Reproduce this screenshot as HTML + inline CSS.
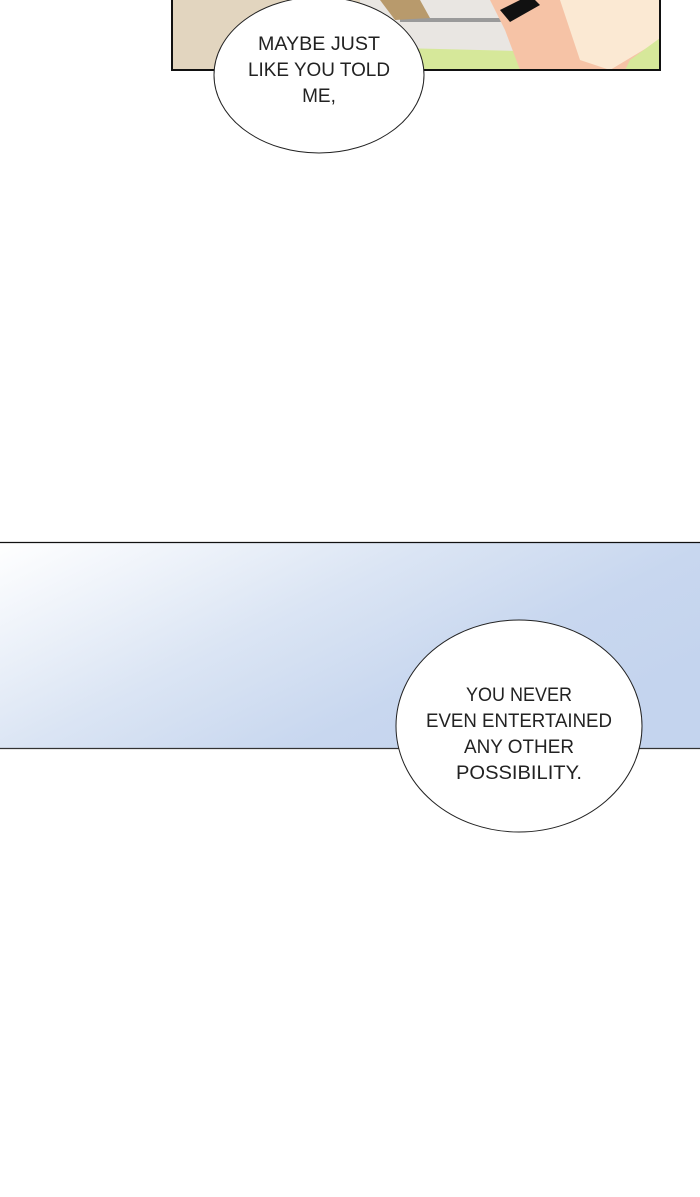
<!DOCTYPE html>
<html><head><meta charset="utf-8"><style>
html,body{margin:0;padding:0;background:#fff;}
svg{display:block;}
text{font-family:"Liberation Sans",sans-serif;font-size:19px;fill:#222;text-anchor:middle;}
</style></head><body>
<svg width="700" height="1197" viewBox="0 0 700 1197" xmlns="http://www.w3.org/2000/svg">
<defs>
<linearGradient id="g" x1="0" y1="0" x2="1" y2="0.6" gradientUnits="objectBoundingBox">
<stop offset="0" stop-color="#ffffff"/>
<stop offset="0.45" stop-color="#dbe5f4"/>
<stop offset="0.75" stop-color="#c8d7ef"/>
<stop offset="1" stop-color="#c4d4ee"/>
</linearGradient>
<clipPath id="p1"><rect x="172" y="0" width="488" height="70"/></clipPath>
</defs>
<!-- top panel -->
<g clip-path="url(#p1)">
<rect x="172" y="0" width="488" height="70" fill="#e2d5bf"/>
<rect x="360" y="0" width="300" height="70" fill="#e9e6e2"/>
<rect x="400" y="18" width="260" height="4" fill="#9a9a9a"/>
<path d="M380 0 L420 0 L430 18 L395 20 Z" fill="#b89a6c"/>
<path d="M400 48 L560 52 L600 70 L400 70 Z" fill="#d6e89a"/>
<path d="M490 0 L660 0 L660 70 L520 70 L505 30 Z" fill="#f6c3a6"/>
<path d="M560 0 L660 0 L660 40 L610 70 L580 60 Z" fill="#fbe9d3"/>
<path d="M500 10 L530 -5 L540 5 L510 22 Z" fill="#111"/>
<path d="M630 60 L660 38 L660 70 L625 70 Z" fill="#d6e89a"/>
</g>
<rect x="172" y="-2" width="488" height="72" fill="none" stroke="#111" stroke-width="2"/>
<ellipse cx="319" cy="75" rx="105" ry="78" fill="#fff" stroke="#222" stroke-width="1"/>
<text x="319" y="50" textLength="122" lengthAdjust="spacingAndGlyphs">MAYBE JUST</text>
<text x="319" y="76" textLength="142" lengthAdjust="spacingAndGlyphs">LIKE YOU TOLD</text>
<text x="319" y="102">ME,</text>
<!-- gradient panel -->
<rect x="0" y="542" width="700" height="207" fill="url(#g)"/>
<line x1="0" y1="542.5" x2="700" y2="542.5" stroke="#111" stroke-width="1.3"/>
<line x1="0" y1="748.5" x2="700" y2="748.5" stroke="#333" stroke-width="1.3"/>
<ellipse cx="519" cy="726" rx="123" ry="106" fill="#fff" stroke="#222" stroke-width="1"/>
<text x="519" y="701" textLength="106" lengthAdjust="spacingAndGlyphs">YOU NEVER</text>
<text x="519" y="727" textLength="186" lengthAdjust="spacingAndGlyphs">EVEN ENTERTAINED</text>
<text x="519" y="753" textLength="110" lengthAdjust="spacingAndGlyphs">ANY OTHER</text>
<text x="519" y="779" textLength="126" lengthAdjust="spacingAndGlyphs">POSSIBILITY.</text>
</svg>
</body></html>
